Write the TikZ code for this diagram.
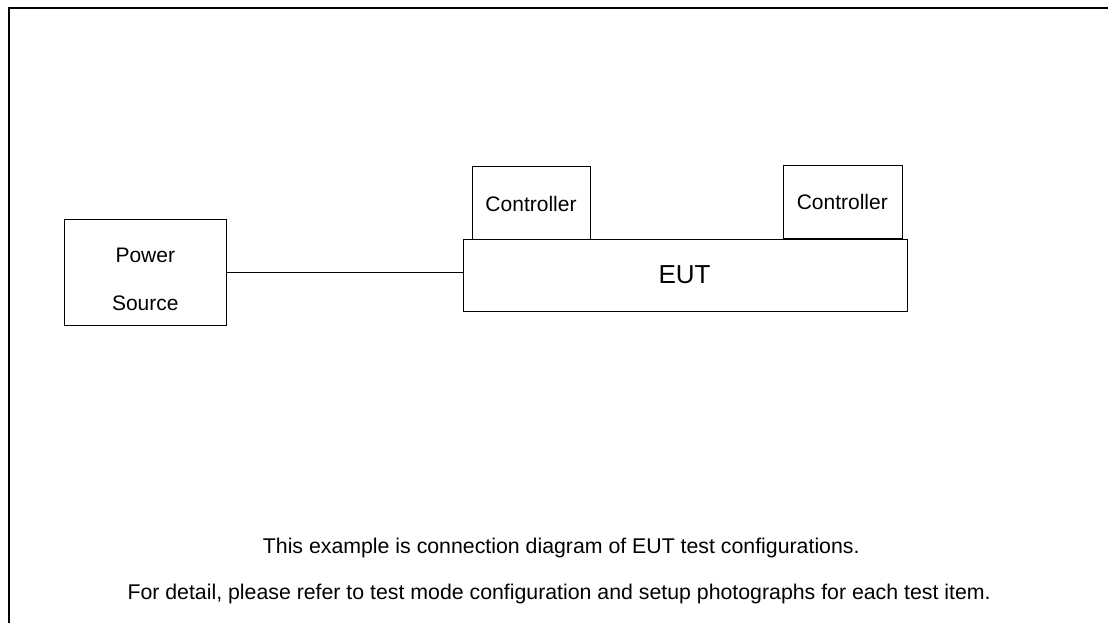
\documentclass[tikz,border=0pt]{standalone}
\usepackage{fontspec}
\setmainfont{Liberation Sans}
\begin{document}
\begin{tikzpicture}[x=1pt,y=-1pt,
  box/.style={draw, line width=1pt, inner sep=0pt, anchor=north west},
  txt/.style={inner sep=0pt, anchor=base, font=\fontsize{21}{25}\selectfont},
  note/.style={inner sep=0pt, anchor=base west, font=\fontsize{21.3}{25}\selectfont}]
\useasboundingbox (0,0) rectangle (1108,623);
% frame
\coordinate (fb) at (9,623);
\coordinate (fc) at (9,8.5);
\coordinate (fr) at (1108,8.5);
\draw[line width=2pt] (fb) -- (fc) -- (fr);
% boxes
\node[box, minimum width=162pt, minimum height=106pt] (ps) at (64.3,219.3) {};
\node[box, minimum width=444pt, minimum height=72.6pt] (eut) at (462.7,238.7) {};
\node[box, minimum width=118.3pt, minimum height=72.4pt] (c1) at (472,166.3) {};
\node[box, minimum width=118.7pt, minimum height=72.7pt] (c2) at (783,165) {};
% texts
\node[txt] (pst1) at (145.3,262.5) {Power};
\node[txt] (pst2) at (145.3,310) {Source};
\node[txt] (c1t) at (531,211.5) {Controller};
\node[txt] (c2t) at (842.3,209.8) {Controller};
\node[txt, font=\fontsize{26}{30}\selectfont] (eutt) at (684.5,283.4) {EUT};
\node[note] (n1) at (262.7,553.5) {This example is connection diagram of EUT test configurations.};
\node[note] (n2) at (127.3,599) {For detail, please refer to test mode configuration and setup photographs for each test item.};
% connector
\draw[line width=1.3pt] (ps.east) -- (ps.east -| eut.west);
\end{tikzpicture}
\end{document}
